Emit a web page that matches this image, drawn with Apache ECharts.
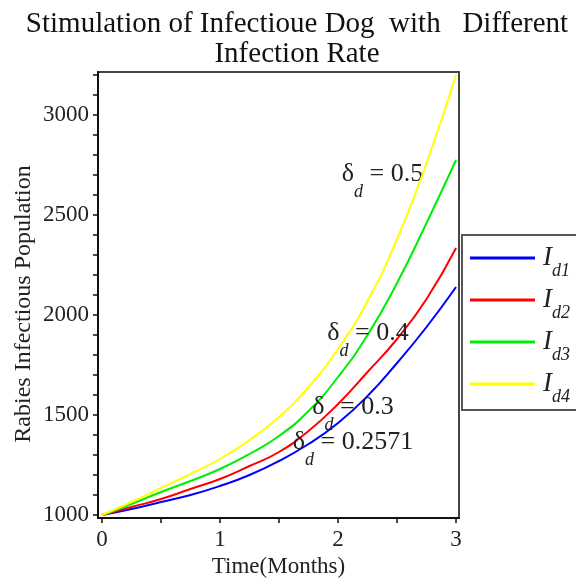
<!DOCTYPE html>
<html><head><meta charset="utf-8">
<script src="https://cdn.jsdelivr.net/npm/echarts@6/dist/echarts.min.js"></script>
<style>html,body{margin:0;padding:0;background:#fff}#c{width:576px;height:584px}</style>
</head><body><div id="c"></div>
<script>
// Time (months)
const times = [0, 0.25, 0.5, 0.75, 1, 1.25, 1.5, 1.75, 2, 2.25, 2.5, 2.75, 3];
// Infectious dog population for each infection rate
const id1 = [1000, 1030, 1065, 1100, 1145, 1200, 1270, 1355, 1460, 1595, 1760, 1940, 2140]; // δd = 0.2571
const id2 = [1000, 1040, 1080, 1130, 1180, 1245, 1315, 1420, 1555, 1715, 1880, 2080, 2335]; // δd = 0.3
const id3 = [1000, 1055, 1115, 1170, 1230, 1305, 1395, 1520, 1690, 1900, 2160, 2460, 2775]; // δd = 0.4
const id4 = [1000, 1065, 1135, 1205, 1280, 1375, 1490, 1640, 1830, 2070, 2380, 2760, 3200]; // δd = 0.5
const seriesNames = ['Id1', 'Id2', 'Id3', 'Id4'];
const seriesSubs = ['d1', 'd2', 'd3', 'd4'];
const deltaValues = ['0.2571', '0.3', '0.4', '0.5'];
const xTicks = [0, 0.5, 1, 1.5, 2, 2.5, 3];
const xLabels = [0, 1, 2, 3];
const yTicks = [1000,1100,1200,1300,1400,1500,1600,1700,1800,1900,2000,2100,2200,2300,2400,2500,2600,2700,2800,2900,3000,3100,3200];
const yLabels = [1000, 1500, 2000, 2500, 3000];

const colors = ['#0000ff', '#ff0000', '#00ee00', '#ffff00'];
const serif = '"Liberation Serif", "DejaVu Serif", serif';
const allData = [id1, id2, id3, id4];
// annotation anchors (data space) for each curve label
const anchors = [[2.127, 1355], [2.127, 1530], [2.254, 1900], [2.377, 2692]];

const annRich = {
  g: { fontFamily: serif, fontSize: 26, lineHeight: 30, verticalAlign: 'top', color: '#222' },
  s: { fontFamily: serif, fontStyle: 'italic', fontSize: 18, lineHeight: 18, padding: [22, 0, 0, 0], verticalAlign: 'top', color: '#222' }
};

const series = seriesNames.map((name, k) => ({
  name: name,
  type: 'line',
  smooth: true,
  showSymbol: false,
  z: 2 + k,
  lineStyle: { width: 2, color: colors[k] },
  itemStyle: { color: colors[k] },
  data: times.map((t, i) => [t, allData[k][i]]),
  markPoint: {
    symbol: 'circle', symbolSize: 0, silent: true,
    itemStyle: { color: 'rgba(0,0,0,0)' },
    label: {
      show: true, position: 'inside',
      formatter: () => '{g|δ}{s|d}{g| = ' + deltaValues[k] + '}',
      rich: annRich
    },
    data: [{ coord: anchors[k] }]
  }
}));

const chart = echarts.init(document.getElementById('c'), null, { renderer: 'canvas' });
chart.setOption({
  animation: false,
  backgroundColor: '#fff',
  title: {
    text: 'Stimulation of Infectioue Dog  with   Different\nInfection Rate',
    left: 297, top: 9, padding: 0, textAlign: 'center',
    textStyle: { fontFamily: serif, fontSize: 29, fontWeight: 'normal', color: '#111', lineHeight: 30 }
  },
  graphic: [{
    type: 'text', x: 24, y: 304, rotation: Math.PI / 2,
    style: { text: 'Rabies Infectious Population', font: '24px "Liberation Serif", serif', fill: '#222', align: 'center', verticalAlign: 'middle' }
  }],
  grid: { left: 98, right: 117, top: 72, bottom: 66, show: true, borderColor: '#444', borderWidth: 2 },
  legend: {
    orient: 'vertical', left: 462, top: 235, padding: [1, 40, 4, 8],
    itemWidth: 65, itemHeight: 3, itemGap: -2, icon: 'rect',
    borderColor: '#555', borderWidth: 2, backgroundColor: '#fff',
    selectedMode: false,
    data: seriesNames,
    formatter: name => '{i|I}{s|' + seriesSubs[seriesNames.indexOf(name)] + '}',
    textStyle: {
      rich: {
        i: { fontFamily: serif, fontStyle: 'italic', fontSize: 27, lineHeight: 44, color: '#222', padding: [0, 0, 0, 3] },
        s: { fontFamily: serif, fontStyle: 'italic', fontSize: 18, lineHeight: 18, padding: [26, 0, 0, 0], verticalAlign: 'top', color: '#222' }
      }
    }
  },
  xAxis: {
    type: 'value', min: -0.034, max: 3.025,
    name: 'Time(Months)', nameLocation: 'middle', nameGap: 36,
    nameTextStyle: { fontFamily: serif, fontSize: 23, color: '#222' },
    axisLine: { show: true, onZero: false, lineStyle: { color: '#111', width: 2 } },
    axisTick: { show: true, customValues: xTicks, length: 5, lineStyle: { color: '#111', width: 1.5 } },
    axisLabel: { customValues: xLabels, fontFamily: serif, fontSize: 23, color: '#222', margin: 10, formatter: v => String(v) },
    splitLine: { show: false }
  },
  yAxis: {
    type: 'value', min: 985, max: 3215,
    axisLine: { show: true, onZero: false, lineStyle: { color: '#111', width: 2 } },
    axisTick: { show: true, customValues: yTicks, length: 5, lineStyle: { color: '#111', width: 1.5 } },
    axisLabel: { customValues: yLabels, fontFamily: serif, fontSize: 23, color: '#222', margin: 9, formatter: v => String(v) },
    splitLine: { show: false }
  },
  series: series
});
</script></body></html>
